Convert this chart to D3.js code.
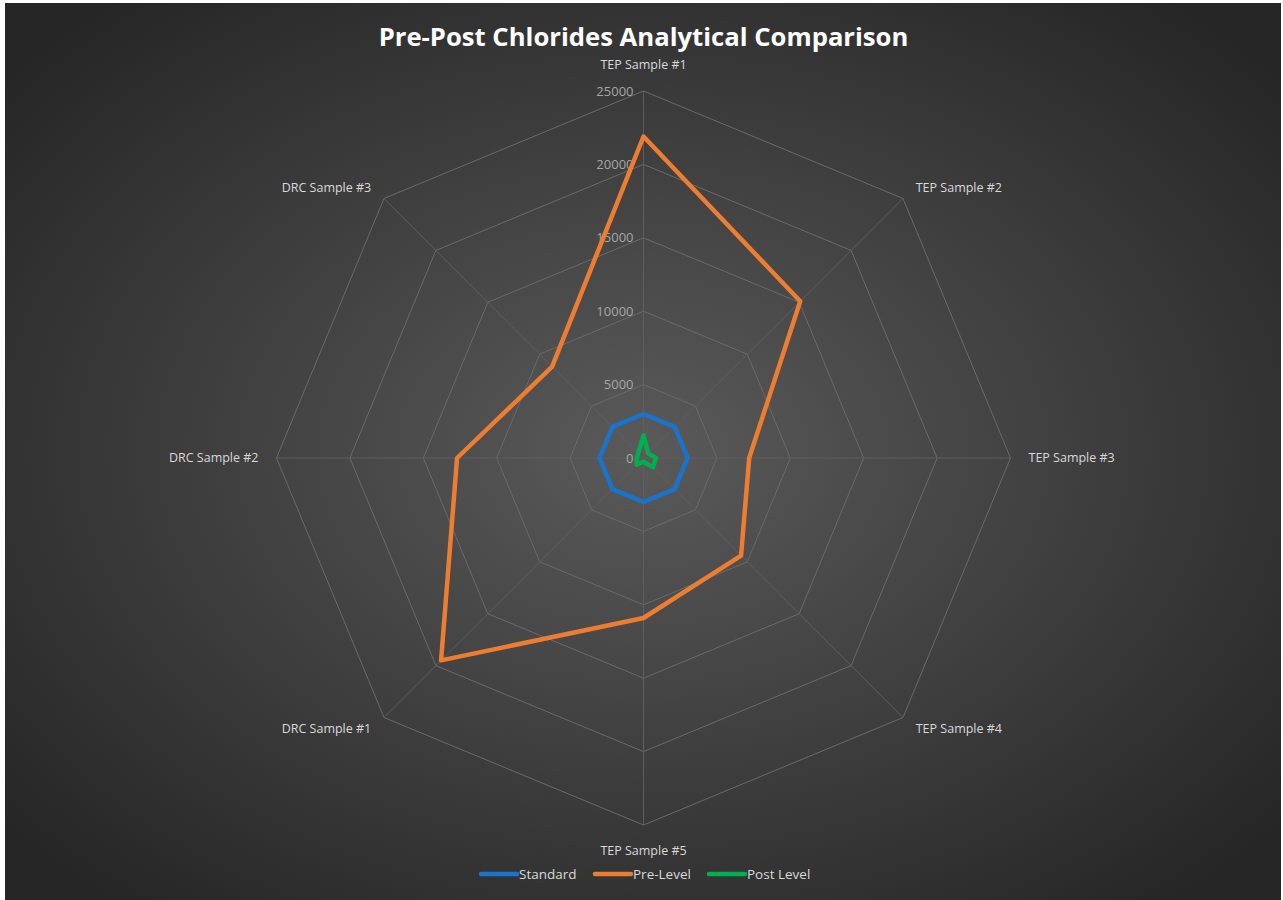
<!DOCTYPE html>
<html>
<head>
<meta charset="utf-8">
<script src="https://cdn.jsdelivr.net/npm/d3@7"></script>
<style>
  body { margin: 0; background: #ffffff; }
  svg { display: block; }
  text { font-family: "Open Sans", sans-serif; }
</style>
</head>
<body>
<div id="chart"></div>
<script>
// data
const categories = ["TEP Sample #1", "TEP Sample #2", "TEP Sample #3", "TEP Sample #4",
                    "TEP Sample #5", "DRC Sample #1", "DRC Sample #2", "DRC Sample #3"];
const standardValues = [3000, 3000, 3000, 3000, 3000, 3000, 3000, 3000];
const preValues = [21900, 15100, 7200, 9400, 10900, 19500, 12700, 8800];
const postValues = [1550, 450, 850, 900, 250, 650, 450, 500];
const ticks = [0, 5000, 10000, 15000, 20000, 25000];
const seriesNames = ["Standard", "Pre-Level", "Post Level"];
const seriesColors = ["#1874CD", "#ED7D31", "#00B050"];

const W = 1283, H = 900;
const cx = 643.5, cy = 458, R = 367;

const svg = d3.select("#chart").append("svg")
    .attr("width", W)
    .attr("height", H);

// background gradient
const defs = svg.append("defs");
const grad = defs.append("radialGradient")
    .attr("id", "bg")
    .attr("cx", "50%").attr("cy", "50%").attr("r", "65%");
grad.append("stop").attr("offset", "0%").attr("stop-color", "#5a5a5a");
grad.append("stop").attr("offset", "100%").attr("stop-color", "#262626");

svg.append("rect")
    .attr("x", 5).attr("y", 3)
    .attr("width", W - 7).attr("height", H - 3)
    .attr("fill", "url(#bg)");

var rscale = d3.scaleLinear().domain([0, 25000]).range([0, R]);
var ascale = d3.scaleLinear().domain([0, categories.length]).range([0, 2 * Math.PI]);

const g = svg.append("g").attr("transform", `translate(${cx},${cy})`);

// grid octagons
const radial = d3.lineRadial()
    .angle((d, i) => ascale(i))
    .radius(d => rscale(d))
    .curve(d3.curveLinearClosed);

g.selectAll(".grid")
    .data(ticks.slice(1))
    .enter().append("path")
    .attr("class", "grid")
    .attr("d", t => radial(categories.map(() => t)))
    .attr("fill", "none")
    .attr("stroke", "#6a6a6a")
    .attr("stroke-width", 1);

// spokes
g.selectAll(".spoke")
    .data(categories)
    .enter().append("line")
    .attr("x1", 0).attr("y1", 0)
    .attr("x2", (d, i) => rscale(25000) * Math.sin(ascale(i)))
    .attr("y2", (d, i) => -rscale(25000) * Math.cos(ascale(i)))
    .attr("stroke", "#5e5e5e")
    .attr("stroke-width", 1);

// tick labels
g.selectAll(".tick")
    .data(ticks)
    .enter().append("text")
    .attr("x", -10)
    .attr("y", d => -rscale(d))
    .attr("dy", "0.35em")
    .attr("text-anchor", "end")
    .attr("fill", "#a6a6a6")
    .style("font-size", "13px")
    .text(d => d);

// category labels
g.selectAll(".cat")
    .data(categories)
    .enter().append("text")
    .attr("x", (d, i) => {
        const a = ascale(i), s = Math.sin(a);
        return (rscale(25000) + 18) * s;
    })
    .attr("y", (d, i) => {
        const a = ascale(i), c = Math.cos(a);
        if (Math.abs(c) > 0.9) return -(rscale(25000) + 26) * c;
        return -(rscale(25000) + 16) * c;
    })
    .attr("dy", "0.35em")
    .attr("text-anchor", (d, i) => {
        const s = Math.sin(ascale(i));
        return s > 0.1 ? "start" : (s < -0.1 ? "end" : "middle");
    })
    .attr("fill", "#d9d9d9")
    .style("font-size", "12.5px")
    .text(d => d);

// series
const allSeries = [standardValues, preValues, postValues];
g.selectAll(".series")
    .data(allSeries)
    .enter().append("path")
    .attr("class", "series")
    .attr("d", d => radial(d))
    .attr("fill", "none")
    .attr("stroke", (d, i) => seriesColors[i])
    .attr("stroke-width", 4.5)
    .attr("stroke-linejoin", "round");

// title
const title = svg.append("text")
    .attr("x", cx)
    .attr("y", 46)
    .attr("text-anchor", "middle")
    .attr("fill", "#ffffff")
    .style("font-weight", "bold")
    .style("font-size", "27px")
    .text("Pre-Post Chlorides Analytical Comparison");
const tw = title.node().getComputedTextLength();
title.style("font-size", (27 * 530 / tw) + "px");

// legend
const legendX = [481, 595, 709];
const legend = svg.selectAll(".legend")
    .data(seriesNames)
    .enter().append("g")
    .attr("transform", (d, i) => `translate(${legendX[i]},874)`);
legend.append("line")
    .attr("x1", 0).attr("x2", 36)
    .attr("stroke", (d, i) => seriesColors[i])
    .attr("stroke-width", 4.5)
    .attr("stroke-linecap", "round");
legend.append("text")
    .attr("x", 38)
    .attr("dy", "0.35em")
    .attr("fill", "#d9d9d9")
    .style("font-size", "13.5px")
    .text(d => d);
</script>
</body>
</html>
